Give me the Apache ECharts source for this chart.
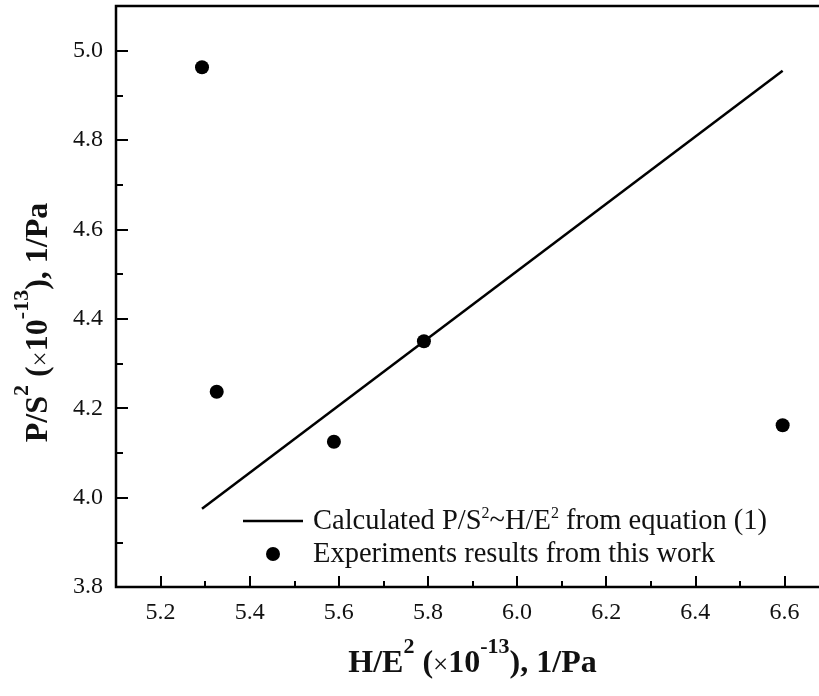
<!DOCTYPE html>
<html>
<head>
<meta charset="utf-8">
<script src="https://cdn.jsdelivr.net/npm/echarts@6/dist/echarts.min.js"></script>
<style>
  html, body { margin: 0; padding: 0; background: #fff; }
  #chart { width: 819px; height: 696px; }
</style>
</head>
<body>
<div id="chart"></div>
<script>
// Experimental points: H/E^2 and P/S^2 (both ×10^-13, 1/Pa)
const expHE2 = [5.293, 5.326, 5.589, 5.791, 6.596];
const expPS2 = [4.963, 4.237, 4.125, 4.350, 4.162];

// Calculated P/S^2 ~ H/E^2 relation from equation (1): end points of the straight line
const calcHE2 = [5.293, 6.596];
const calcPS2 = [3.975, 4.955];

// Tick positions
const xMajorTicks = [5.2, 5.4, 5.6, 5.8, 6.0, 6.2, 6.4, 6.6];
const xMinorTicks = [5.3, 5.5, 5.7, 5.9, 6.1, 6.3, 6.5];
const yMajorTicks = [3.8, 4.0, 4.2, 4.4, 4.6, 4.8, 5.0];
const yMinorTicks = [3.9, 4.1, 4.3, 4.5, 4.7, 4.9];

const SERIF = 'Liberation Serif, Times New Roman, serif';
const INK = '#111';

// Bold axis titles with raised superscripts
const titleRich = {
  b: { fontFamily: SERIF, fontWeight: 'bold', fontSize: 32, color: INK, lineHeight: 50, verticalAlign: 'bottom' },
  s: { fontFamily: SERIF, fontWeight: 'bold', fontSize: 22, color: INK, lineHeight: 22, verticalAlign: 'top', padding: [6, 0, 0, 0] },
  x: { fontFamily: SERIF, fontWeight: 'normal', fontSize: 27, color: INK, lineHeight: 50, verticalAlign: 'bottom' }
};

const legendRich = {
  t: { fontFamily: SERIF, fontSize: 28.5, color: INK, lineHeight: 30, verticalAlign: 'bottom' },
  s: { fontFamily: SERIF, fontSize: 16, color: INK, lineHeight: 22, verticalAlign: 'top' }
};

const legendText = {
  calc: '{t|Calculated P/S}{s|2}{t|~H/E}{s|2}{t| from equation (1)}',
  exp: '{t|Experiments results from this work}'
};

const fmt = v => Number(v).toFixed(1);

const chart = echarts.init(document.getElementById('chart'), null, { renderer: 'canvas' });

chart.setOption({
  backgroundColor: '#fff',
  animation: false,
  grid: {
    left: 116, top: 6, width: 713, bottom: 109,
    outerBoundsMode: 'none',
    containLabel: false,
    show: true, borderColor: '#000', borderWidth: 2.5, backgroundColor: 'transparent'
  },
  legend: {
    orient: 'vertical',
    left: 238, top: 501,
    itemWidth: 60, itemHeight: 14, itemGap: 4,
    data: [
      { name: 'calc', icon: 'path://M0,0 L60,0 L60,2.5 L0,2.5 Z' },
      { name: 'exp', icon: 'circle' }
    ],
    formatter: name => legendText[name],
    textStyle: { fontFamily: SERIF, fontSize: 28.5, color: INK, padding: [0, 0, 0, 5], rich: legendRich }
  },
  xAxis: [
    {
      type: 'value', min: 5.1, max: 6.7, position: 'bottom',
      axisLine: { show: false },
      axisTick: { show: true, inside: true, length: 11, customValues: xMajorTicks, lineStyle: { color: '#000', width: 2 } },
      axisLabel: { show: true, customValues: xMajorTicks, formatter: fmt, margin: 14, fontFamily: SERIF, fontSize: 24, color: INK },
      splitLine: { show: false },
      name: '{b|H/E}{s|2}{b| (}{x|×}{b|10}{s|-13}{b|), 1/Pa}',
      nameLocation: 'middle', nameGap: 40,
      nameTextStyle: { rich: titleRich }
    },
    {
      type: 'value', min: 5.1, max: 6.7, position: 'bottom',
      axisLine: { show: false },
      axisTick: { show: true, inside: true, length: 6, customValues: xMinorTicks, lineStyle: { color: '#000', width: 2 } },
      axisLabel: { show: false },
      splitLine: { show: false }
    }
  ],
  yAxis: [
    {
      type: 'value', min: 3.8, max: 5.1, position: 'left',
      axisLine: { show: false },
      axisTick: { show: true, inside: true, length: 12, customValues: yMajorTicks, lineStyle: { color: '#000', width: 2 } },
      axisLabel: { show: true, customValues: yMajorTicks, formatter: fmt, margin: 13, fontFamily: SERIF, fontSize: 24, color: INK },
      splitLine: { show: false },
      name: '{b|P/S}{s|2}{b| (}{x|×}{b|10}{s|-13}{b|), 1/Pa}',
      nameLocation: 'middle', nameGap: 61, nameRotate: 90,
      nameTextStyle: { rich: titleRich, padding: [0, 52, 0, 0] }
    },
    {
      type: 'value', min: 3.8, max: 5.1, position: 'left',
      axisLine: { show: false },
      axisTick: { show: true, inside: true, length: 7, customValues: yMinorTicks, lineStyle: { color: '#000', width: 2 } },
      axisLabel: { show: false },
      splitLine: { show: false }
    }
  ],
  series: [
    {
      name: 'calc', type: 'line', xAxisIndex: 0, yAxisIndex: 0,
      data: calcHE2.map((x, i) => [x, calcPS2[i]]),
      symbol: 'none', showSymbol: false,
      lineStyle: { color: '#000', width: 2.5 },
      itemStyle: { color: '#000' },
      z: 3
    },
    {
      name: 'exp', type: 'scatter', xAxisIndex: 0, yAxisIndex: 0,
      data: expHE2.map((x, i) => [x, expPS2[i]]),
      symbol: 'circle', symbolSize: 14,
      itemStyle: { color: '#000', opacity: 1 },
      z: 4
    }
  ]
});
</script>
</body>
</html>
